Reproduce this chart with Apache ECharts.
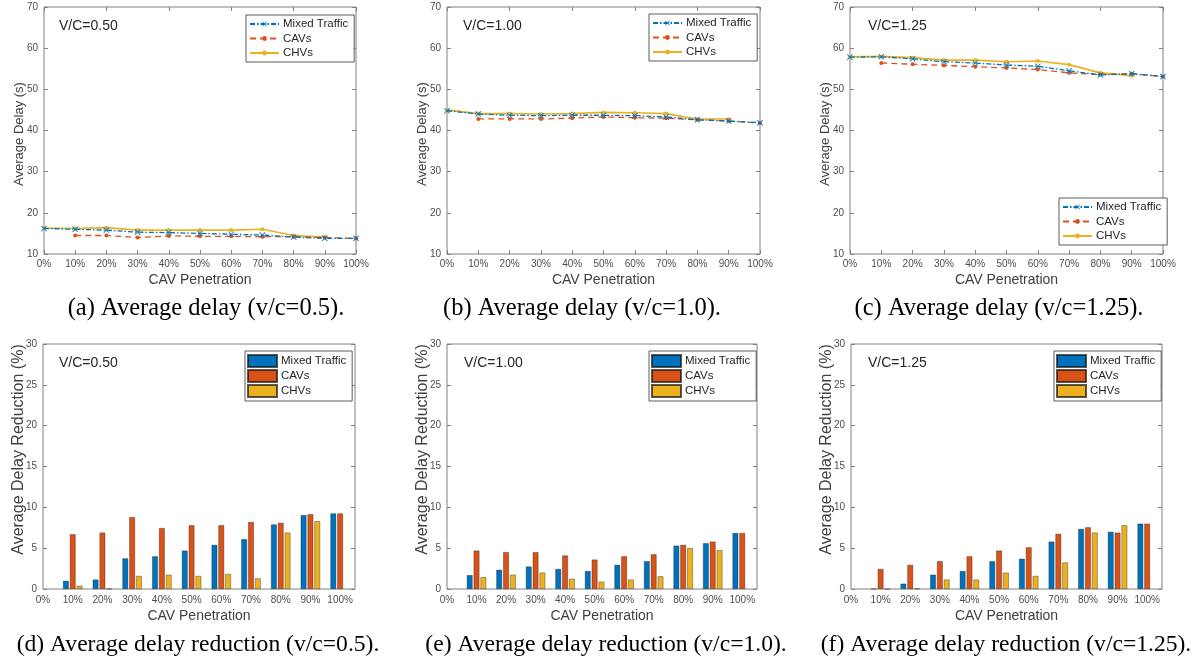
<!DOCTYPE html>
<html>
<head>
<meta charset="utf-8">
<script src="https://cdn.jsdelivr.net/npm/echarts@6/dist/echarts.min.js"></script>
<style>
html, body { margin: 0; padding: 0; background: #fff; }
#page { position: relative; width: 1199px; height: 658px; }
.cell { position: absolute; }
</style>
</head>
<body>
<div id="page"></div>
<script>
'use strict';

// x categories
const arrPenetration = ['0%', '10%', '20%', '30%', '40%', '50%', '60%', '70%', '80%', '90%', '100%'];
const arrSeriesName = ['Mixed Traffic', 'CAVs', 'CHVs'];
const arrVC = ['V/C=0.50', 'V/C=1.00', 'V/C=1.25'];
const arrCaptionDelay = ['(a) Average delay (v/c=0.5).', '(b) Average delay (v/c=1.0).', '(c) Average delay (v/c=1.25).'];
const arrCaptionRedu = ['(d) Average delay reduction (v/c=0.5).', '(e) Average delay reduction (v/c=1.0).', '(f) Average delay reduction (v/c=1.25).'];

// average delay (s)
const delayMixed050 = [16.2, 16.0, 15.8, 15.3, 15.2, 15.0, 14.8, 14.6, 14.1, 13.8, 13.8];
const delayCav050 = [null, 14.5, 14.5, 14.0, 14.4, 14.3, 14.3, 14.2, 14.2, 14.0, 13.8];
const delayChv050 = [16.3, 16.2, 16.4, 15.8, 15.8, 15.8, 15.8, 16.0, 14.5, 14.1, null];

const delayMixed100 = [44.8, 44.0, 43.7, 43.6, 43.7, 43.7, 43.6, 43.3, 42.6, 42.3, 41.9];
const delayCav100 = [null, 42.8, 42.8, 42.8, 43.0, 43.3, 43.1, 43.0, 42.6, 42.3, 41.8];
const delayChv100 = [45.0, 44.1, 44.1, 44.0, 44.1, 44.4, 44.3, 44.1, 42.8, 42.8, null];

const delayMixed125 = [57.8, 57.9, 57.4, 56.7, 56.4, 55.9, 55.6, 54.5, 53.5, 53.8, 53.1];
const delayCav125 = [null, 56.4, 56.1, 55.8, 55.5, 55.2, 54.8, 54.0, 53.6, 53.8, 53.1];
const delayChv125 = [57.9, 58.0, 57.7, 57.1, 57.1, 56.7, 56.9, 56.0, 54.0, 53.3, null];

// average delay reduction (%)
const reduMixed050 = [null, 1.0, 1.15, 3.75, 4.0, 4.7, 5.4, 6.1, 7.9, 9.05, 9.25];
const reduCav050 = [null, 6.7, 6.9, 8.8, 7.45, 7.8, 7.8, 8.2, 8.1, 9.15, 9.25];
const reduChv050 = [null, 0.4, 0, 1.6, 1.75, 1.6, 1.85, 1.3, 6.9, 8.3, null];

const reduMixed100 = [null, 1.7, 2.35, 2.75, 2.45, 2.2, 2.95, 3.4, 5.3, 5.6, 6.85];
const reduCav100 = [null, 4.7, 4.5, 4.5, 4.1, 3.6, 4.0, 4.25, 5.4, 5.8, 6.85];
const reduChv100 = [null, 1.45, 1.75, 2.0, 1.25, 0.9, 1.15, 1.55, 5.0, 4.75, null];

const reduMixed125 = [null, 0, 0.65, 1.75, 2.2, 3.4, 3.7, 5.8, 7.35, 7.0, 8.0];
const reduCav125 = [null, 2.45, 2.95, 3.4, 4.0, 4.7, 5.1, 6.75, 7.55, 6.9, 8.0];
const reduChv125 = [null, 0, 0.05, 1.15, 1.15, 2.0, 1.6, 3.25, 6.9, 7.8, null];

const arrDelay = [
    [delayMixed050, delayCav050, delayChv050],
    [delayMixed100, delayCav100, delayChv100],
    [delayMixed125, delayCav125, delayChv125]
];
const arrRedu = [
    [reduMixed050, reduCav050, reduChv050],
    [reduMixed100, reduCav100, reduChv100],
    [reduMixed125, reduCav125, reduChv125]
];

// matlab default colors
const arrColor = ['#0072BD', '#D95319', '#EDB120'];

const strSans = 'Liberation Sans, Arial, sans-serif';
const strSerif = 'Liberation Serif, Times New Roman, serif';
const strFrame = '#808080';
const strLabel = '#4d4d4d';

// cell placement (page px)
const cellX = [0, 400, 800];
const cellY = [0, 329];
const cellW = [400, 400, 399];
const cellH = 329;

// layout inside each cell
const layoutDelay = {
    gridL: [44, 47, 50],
    gridW: [312, 313, 313],
    gridT: 7,
    gridH: 247,
    legendL: [246, 249, 259],
    legendT: [15, 14, 198],
    vcX: [59, 63, 68],
    vcY: 26,
    capX: [206, 182, 199],
    capY: 309,
    capSize: 24.5
};
const layoutRedu = {
    gridL: [43, 47, 51],
    gridW: [312, 310, 311],
    gridT: 15,
    gridH: 245,
    legendL: [245, 249, 254],
    legendT: [22, 22, 22],
    vcX: [59, 64, 68],
    vcY: 34,
    capX: [198, 206, 206],
    capY: 316,
    capSize: 23.6
};

const crossPath = 'path://M1,0 L5,4 L9,0 L10,1 L6,5 L10,9 L9,10 L5,6 L1,10 L0,9 L4,5 L0,1 Z';

const makeCell = (col, row) => {
    const el = document.createElement('div');
    el.className = 'cell';
    el.style.left = cellX[col] + 'px';
    el.style.top = cellY[row] + 'px';
    el.style.width = cellW[col] + 'px';
    el.style.height = cellH + 'px';
    document.getElementById('page').append(el);
    return echarts.init(el, null, { renderer: 'canvas' });
}

const baseOption = (lay, i, caption) => {
    return {
        animation: false,
        backgroundColor: '#fff',
        grid: {
            left: lay.gridL[i],
            top: lay.gridT,
            width: lay.gridW[i],
            height: lay.gridH,
            show: true,
            borderColor: strFrame,
            borderWidth: 1,
            backgroundColor: '#fff',
            containLabel: false,
            outerBoundsMode: 'none'
        },
        legend: {
            left: lay.legendL[i],
            top: lay.legendT[i],
            orient: 'vertical',
            backgroundColor: '#fff',
            borderColor: '#333',
            borderWidth: 0.8,
            borderRadius: 0,
            padding: [3, 6, 3, 3],
            itemGap: 2,
            textStyle: {
                fontFamily: strSans,
                fontSize: 11.5,
                color: '#262626',
                padding: [0, 0, 0, -1]
            },
            data: arrSeriesName
        },
        graphic: [{
                type: 'text',
                x: lay.vcX[i],
                y: lay.vcY,
                style: {
                    text: arrVC[i],
                    fontFamily: strSans,
                    fontSize: 14,
                    fill: '#262626',
                    align: 'left',
                    verticalAlign: 'middle'
                }
            },
            {
                type: 'text',
                x: lay.capX[i],
                y: lay.capY,
                style: {
                    text: caption,
                    fontFamily: strSerif,
                    fontSize: lay.capSize,
                    fill: '#000',
                    align: 'center',
                    verticalAlign: 'middle'
                }
            }
        ]
    }
}

const yAxisPair = (min, max, interval, name, nameStyle, nameGap) => {
    return [{
            type: 'value',
            position: 'left',
            min: min,
            max: max,
            interval: interval,
            name: name,
            nameLocation: 'middle',
            nameGap: nameGap,
            nameMoveOverlap: false,
            nameTextStyle: Object.assign({
                fontFamily: strSans,
                color: '#404040'
            }, nameStyle),
            axisLine: { show: false },
            axisTick: {
                show: true,
                inside: true,
                length: 4,
                lineStyle: { color: strFrame }
            },
            axisLabel: {
                fontFamily: strSans,
                fontSize: 10,
                color: strLabel,
                margin: 6
            },
            splitLine: { show: false }
        },
        {
            type: 'value',
            position: 'right',
            min: min,
            max: max,
            interval: interval,
            axisLine: { show: false },
            axisTick: {
                show: true,
                inside: true,
                length: 4,
                lineStyle: { color: strFrame }
            },
            axisLabel: { show: false },
            splitLine: { show: false }
        }
    ]
}

const drawDelay = (chart, i) => {
    const option = baseOption(layoutDelay, i, arrCaptionDelay[i]);
    const xCommon = {
        type: 'category',
        data: arrPenetration,
        boundaryGap: false,
        axisLine: { show: false },
        splitLine: { show: false },
        axisTick: {
            show: true,
            inside: true,
            length: 4,
            lineStyle: { color: strFrame }
        }
    };
    option.xAxis = [
        Object.assign({}, xCommon, {
            position: 'bottom',
            name: 'CAV Penetration',
            nameLocation: 'middle',
            nameGap: 19,
            nameMoveOverlap: false,
            nameTextStyle: {
                fontFamily: strSans,
                fontSize: 14,
                color: '#404040'
            },
            axisLabel: {
                fontFamily: strSans,
                fontSize: 10,
                color: strLabel,
                margin: 5,
                interval: 0
            }
        }),
        Object.assign({}, xCommon, {
            position: 'top',
            axisLabel: { show: false }
        })
    ];
    option.yAxis = yAxisPair(10, 70, 10, 'Average Delay (s)', { fontSize: 13, padding: [0, 7, 0, 0] }, 18);

    const arrLineType = [[5, 2, 1.5, 2], [6, 4], 'solid'];
    const arrSymbol = [crossPath, 'circle', 'circle'];
    const arrSymbolSize = [6, 4, 4];
    const arrWidth = [1.3, 1.3, 1.6];

    option.series = arrSeriesName.map((name, k) => {
        return {
            name: name,
            type: 'line',
            xAxisIndex: 0,
            yAxisIndex: 0,
            data: arrDelay[i][k],
            symbol: arrSymbol[k],
            symbolSize: arrSymbolSize[k],
            showSymbol: true,
            connectNulls: false,
            lineStyle: {
                color: arrColor[k],
                width: arrWidth[k],
                type: arrLineType[k]
            },
            itemStyle: {
                color: arrColor[k]
            },
            z: 10 - k
        }
    });
    option.legend.itemWidth = 29;
    option.legend.itemHeight = 6;
    option.legend.itemGap = 2.5;

    chart.setOption(option);
}

const drawReduction = (chart, i) => {
    const option = baseOption(layoutRedu, i, arrCaptionRedu[i]);
    const arrTickVal = arrPenetration.map((s, k) => k);
    option.xAxis = [{
            type: 'value',
            position: 'bottom',
            min: 0,
            max: 10.5,
            name: 'CAV Penetration',
            nameLocation: 'middle',
            nameGap: 20,
            nameMoveOverlap: false,
            nameTextStyle: {
                fontFamily: strSans,
                fontSize: 14,
                color: '#404040'
            },
            axisLine: { show: false },
            splitLine: { show: false },
            axisTick: { show: false },
            axisLabel: {
                customValues: arrTickVal,
                formatter: (v) => Number.isInteger(v) ? arrPenetration[v] : '',
                fontFamily: strSans,
                fontSize: 10,
                color: strLabel,
                margin: 6,
                showMinLabel: true,
                showMaxLabel: true
            }
        }
    ];
    option.yAxis = yAxisPair(0, 30, 5, 'Average Delay Reduction (%)', { fontSize: 16, padding: [0, 0, 0, 34] }, 16);

    option.series = arrSeriesName.map((name, k) => {
        const arrData = [];
        arrRedu[i][k].forEach((v, idx) => {
            if (v !== null) arrData.push([idx, v]);
        });
        return {
            name: name,
            type: 'bar',
            xAxisIndex: 0,
            yAxisIndex: 0,
            data: arrData,
            barWidth: 5.7,
            barGap: '20%',
            itemStyle: {
                color: arrColor[k],
                borderColor: 'rgba(20,20,20,0.7)',
                borderWidth: 0.5
            }
        }
    });
    option.legend.itemWidth = 29;
    option.legend.itemHeight = 12;
    option.legend.itemGap = 1;
    option.legend.padding = [3, 6, 3, 2];
    option.legend.data = arrSeriesName.map(name => ({ name: name, icon: 'rect' }));

    chart.setOption(option);
}

//main
{
    for (let i = 0; i < 3; i++) {
        drawDelay(makeCell(i, 0), i);
    }
    for (let i = 0; i < 3; i++) {
        drawReduction(makeCell(i, 1), i);
    }
}
</script>
</body>
</html>
